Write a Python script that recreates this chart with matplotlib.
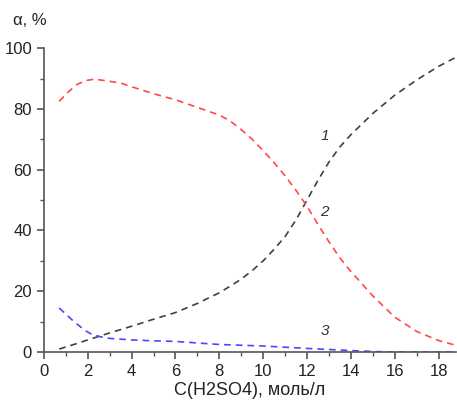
import matplotlib.pyplot as plt
from matplotlib.ticker import MultipleLocator

plt.rcParams['font.family'] = ['Liberation Sans', 'DejaVu Sans']

# curve 1
x1 = [0.7, 1.5, 2, 3, 4, 5, 6, 7, 8, 8.5, 9, 9.5, 10, 10.5, 11, 11.5, 12, 12.5, 13,
      13.5, 14, 15, 16, 17, 18, 18.8]
y1 = [1, 2.8, 4, 6.3, 8.5, 10.8, 13, 16, 19.5, 21.7, 24, 26.8, 30, 33.8, 38, 43.5, 50,
      56.5, 62.5, 67.5, 71.5, 78.5, 84.5, 89.5, 94, 97]
# curve 2
x2 = [0.7, 1.1, 1.5, 1.9, 2.3, 2.8, 3.5, 4, 5, 6, 7, 8, 8.5, 9, 9.5, 10, 10.5, 11,
      11.5, 12, 12.5, 13, 13.5, 14, 15, 16, 17, 18, 18.8]
y2 = [82.5, 85.5, 88, 89.3, 89.8, 89.3, 88.5, 87.3, 85, 83, 80.5, 78, 76, 73.2, 70,
      66.3, 62.3, 58, 53.2, 48, 42, 36.3, 31, 26.5, 18.5, 11.5, 6.8, 3.8, 2.2]
# curve 3
x3 = [0.7, 1.0, 1.3, 1.6, 1.9, 2.2, 2.6, 3, 4, 5, 6, 7, 8, 10, 12, 14, 15, 16, 18.8]
y3 = [14.5, 12.5, 10.5, 8.7, 7.0, 5.8, 5.0, 4.5, 4.0, 3.7, 3.5, 3.0, 2.5, 2.0, 1.2,
      0.5, 0.2, 0, 0]

fig = plt.figure(figsize=(4.57, 4.01), dpi=100)
ax = fig.add_axes([0.096, 0.122, 0.902, 0.758])

ax.plot(x1, y1, ls='--', color='#404040', lw=1.2, dashes=(4, 3))
ax.plot(x2, y2, ls='--', color='#ff4848', lw=1.2, dashes=(4, 3))
ax.plot(x3, y3, ls='--', color='#4848ff', lw=1.2, dashes=(4, 3))

ax.text(12.8, 71, '1', style='italic', fontsize=11, ha='center', va='center', color='#333333')
ax.text(12.8, 46, '2', style='italic', fontsize=11, ha='center', va='center', color='#333333')
ax.text(12.8, 7, '3', style='italic', fontsize=11, ha='center', va='center', color='#333333')

ax.set_xlim(0, 18.8)
ax.set_ylim(0, 100)
ax.xaxis.set_major_locator(MultipleLocator(2))
ax.xaxis.set_minor_locator(MultipleLocator(1))
ax.yaxis.set_major_locator(MultipleLocator(20))
ax.yaxis.set_minor_locator(MultipleLocator(10))

for s in ['top', 'right']:
    ax.spines[s].set_visible(False)
for s in ['left', 'bottom']:
    ax.spines[s].set_color('#555555')
    ax.spines[s].set_linewidth(1.2)
ax.tick_params(which='major', direction='out', length=5, width=1.2, color='#555555',
               labelsize=12, labelcolor='#222222')
ax.tick_params(which='minor', direction='out', length=3, width=1, color='#555555')

ax.set_xlabel('C(H2SO4), моль/л', fontsize=13, color='#222222', labelpad=2)
fig.text(0.028, 0.95, 'α, %', fontsize=12, color='#222222', ha='left', va='center')

fig.savefig('out.png', dpi=100)
